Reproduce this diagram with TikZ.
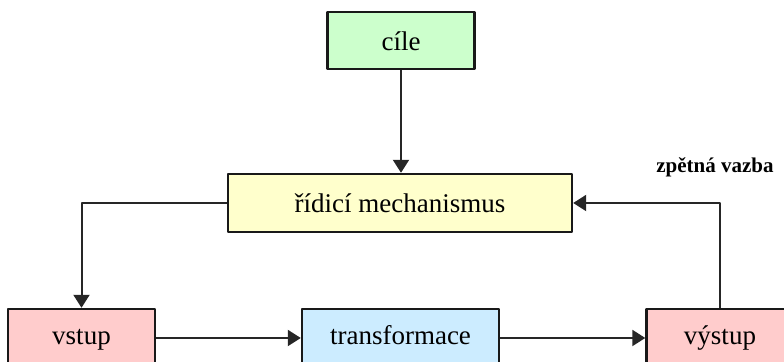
\documentclass[tikz,border=0pt]{standalone}
\usepackage{fontspec}
\setmainfont{Liberation Serif}
\usepackage{tikz}
\usetikzlibrary{arrows.meta, positioning}

\definecolor{goalgreen}{RGB}{204,255,204}
\definecolor{ctrlyellow}{RGB}{255,255,204}
\definecolor{iopink}{RGB}{255,204,204}
\definecolor{procblue}{RGB}{204,236,255}

\begin{document}
\begin{tikzpicture}[x=0.5pt, y=-0.5pt, line join=round,
	box/.style={draw=black!90, line width=1.2pt, inner sep=0pt,
		minimum height=29pt, text height=11pt, text depth=1pt,
		font=\fontsize{13.5}{16}\selectfont},
	lowbox/.style={box, text height=9pt, text depth=2pt},
	link/.style={draw=black!85, line width=1pt,
		-{Triangle[length=6.5pt, width=8pt]}},
	note/.style={inner sep=0pt, font=\fontsize{10.5}{12}\selectfont\bfseries}]
	
	% frame of the picture
	\clip (0,0) rectangle (784,362);
	
	% --- TOP: goals and controller ---
	\node[box, fill=goalgreen, minimum width=73.5pt, minimum height=28.5pt]
	(goal) at (401,40.5) {cíle};
	\node[box, fill=ctrlyellow, minimum width=172pt]
	(ctrl) at (400,203) {řídicí mechanismus};
	
	% --- BOTTOM: input, transformation, output ---
	\node[lowbox, fill=iopink, minimum width=73.5pt]
	(in) at (81.5,338) {vstup};
	\node[lowbox, fill=procblue, minimum width=98.5pt]
	(proc) at (400.5,338) {transformace};
	\node[lowbox, fill=iopink, minimum width=73.5pt]
	(out) at (720,338) {výstup};
	
	% --- connectors ---
	\draw[link] (goal.south) -- (goal.south |- ctrl.north);
	\draw[link] (ctrl.west) -| (in.north);
	\draw[link] (in) -- (proc);
	\draw[link] (proc) -- (out);
	\draw[link] (out.north) |- (ctrl.east);
	
	% feedback label over the bend
	\coordinate (bend) at (out.north |- ctrl.east);
	\node[note, above=12.7pt of bend, xshift=-2.5pt] (fb) {zpětná vazba};
	
\end{tikzpicture}
\end{document}
